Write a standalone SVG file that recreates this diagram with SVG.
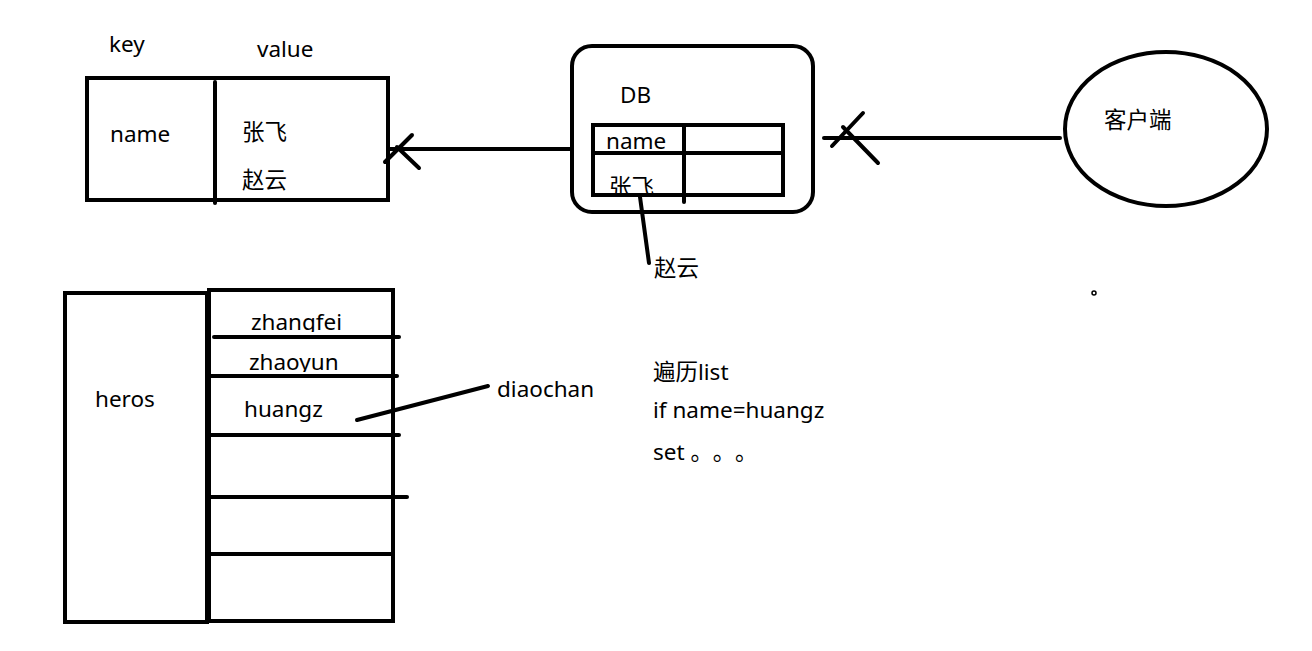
<svg xmlns="http://www.w3.org/2000/svg" width="1312" height="651" viewBox="0 0 1312 651">
<style>
.s{fill:none;stroke:#000;stroke-width:4;stroke-linecap:round}
.t{font-family:"Noto Sans","Noto Sans CJK SC",sans-serif;font-size:22.5px;fill:#000}
</style>
<defs>
<clipPath id="c1"><rect x="200" y="300" width="200" height="32"/></clipPath>
<clipPath id="c2"><rect x="200" y="340" width="200" height="32"/></clipPath>
<clipPath id="c3"><rect x="595" y="155" width="100" height="38"/></clipPath>
</defs>
<rect width="1312" height="651" fill="#fff"/>
<g id="kv">
<rect class="s" x="87" y="78" width="301" height="122" stroke-linecap="butt"/>
<line class="s" x1="215" y1="82" x2="215" y2="203"/>
<text class="t" x="109" y="52">key</text>
<text class="t" x="257" y="57">value</text>
<text class="t" x="110" y="142">name</text>
<text class="t" x="242" y="140">张飞</text>
<text class="t" x="242" y="188">赵云</text>
</g>
<g id="db">
<rect class="s" x="572" y="46" width="241" height="166" rx="20"/>
<text class="t" x="620" y="103">DB</text>
<rect class="s" x="593" y="125" width="190" height="70" stroke-linecap="butt"/>
<line class="s" x1="593" y1="153" x2="783" y2="153"/>
<line class="s" x1="684" y1="125" x2="684" y2="202"/>
<text class="t" x="606" y="149">name</text>
<text class="t" x="609" y="195" clip-path="url(#c3)">张飞</text>
<line class="s" x1="640" y1="197" x2="649" y2="263"/>
<text class="t" x="654" y="276">赵云</text>
</g>
<g id="client">
<ellipse class="s" cx="1166" cy="129" rx="101" ry="77"/>
<text class="t" x="1104" y="128">客户端</text>
</g>
<circle cx="1094" cy="293" r="2" fill="none" stroke="#000" stroke-width="1.5"/>
<g id="heros">
<rect class="s" x="65" y="293" width="142" height="329" stroke-linecap="butt"/>
<text class="t" x="95" y="407">heros</text>
</g>
<g id="list">
<rect class="s" x="209" y="290" width="184" height="331" stroke-linecap="butt"/>
<text class="t" x="251" y="330" clip-path="url(#c1)">zhangfei</text>
<text class="t" x="249" y="370" clip-path="url(#c2)">zhaoyun</text>
<text class="t" x="244" y="417">huangz</text>
<line class="s" x1="214" y1="337" x2="399" y2="337"/>
<line class="s" x1="209" y1="376" x2="397" y2="376"/>
<line class="s" x1="209" y1="435" x2="399" y2="435"/>
<line class="s" x1="209" y1="497" x2="407" y2="497"/>
<line class="s" x1="209" y1="554" x2="393" y2="554"/>
</g>
<g id="note">
<text class="t" x="653" y="380">遍历list</text>
<text class="t" x="653" y="418">if name=huangz</text>
<text class="t" x="653" y="460">set <tspan letter-spacing="11">。。。</tspan></text>
</g>
<text class="t" x="497" y="397">diaochan</text>
<g id="connectors">
<line class="s" x1="572" y1="149" x2="388" y2="149"/>
<line class="s" x1="385" y1="162" x2="412" y2="135"/>
<line class="s" x1="397" y1="147" x2="419" y2="168"/>
<line class="s" x1="824" y1="138" x2="1060" y2="138"/>
<line class="s" x1="832" y1="146" x2="863" y2="113"/>
<line class="s" x1="843" y1="127" x2="878" y2="163"/>
<line class="s" x1="357" y1="420" x2="488" y2="386"/>
</g>
</svg>
